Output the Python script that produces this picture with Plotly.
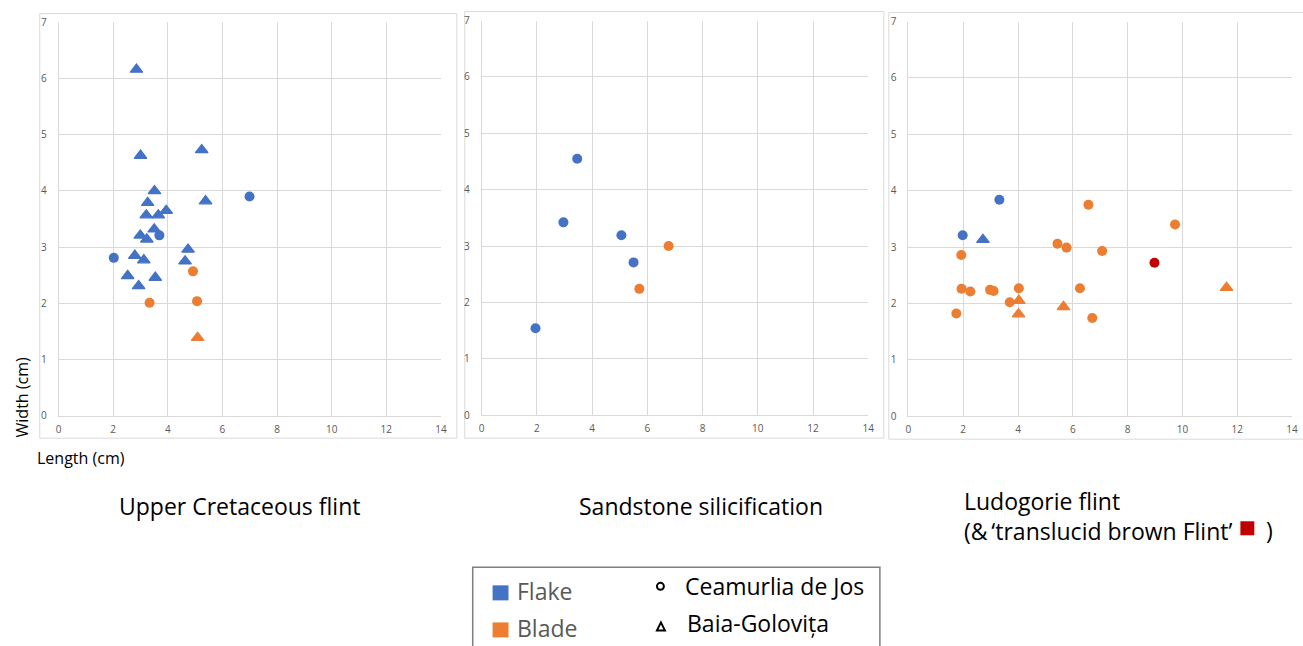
import plotly.graph_objects as go

W, H = 1303, 646

# ---------------- data ----------------
# Panel 1: Upper Cretaceous flint
p1_flake_ceam_x = [2.02, 3.69, 6.99]
p1_flake_ceam_y = [2.81, 3.21, 3.90]
p1_flake_baia_x = [2.85, 3.00, 5.24, 3.51, 3.26, 5.38, 3.94, 3.21, 3.65, 3.50,
                   2.99, 3.23, 4.74, 2.79, 3.12, 4.63, 2.53, 3.54, 2.93]
p1_flake_baia_y = [6.16, 4.63, 4.73, 4.00, 3.79, 3.82, 3.65, 3.57, 3.57, 3.32,
                   3.21, 3.14, 2.96, 2.85, 2.77, 2.75, 2.49, 2.46, 2.31]
p1_blade_ceam_x = [4.92, 3.33, 5.07]
p1_blade_ceam_y = [2.57, 2.01, 2.04]
p1_blade_baia_x = [5.09]
p1_blade_baia_y = [1.39]

# Panel 2: Sandstone silicification
p2_flake_ceam_x = [3.46, 2.96, 5.06, 5.50, 1.95]
p2_flake_ceam_y = [4.55, 3.42, 3.19, 2.71, 1.54]
p2_blade_ceam_x = [6.77, 5.71]
p2_blade_ceam_y = [3.00, 2.24]

# Panel 3: Ludogorie flint
p3_flake_ceam_x = [3.32, 1.98]
p3_flake_ceam_y = [3.84, 3.21]
p3_flake_baia_x = [2.72]
p3_flake_baia_y = [3.13]
p3_blade_ceam_x = [6.57, 9.73, 5.44, 5.77, 7.07, 1.93, 1.94, 2.26, 2.98, 3.11,
                   4.03, 6.26, 3.70, 1.75, 6.71]
p3_blade_ceam_y = [3.75, 3.40, 3.06, 2.99, 2.93, 2.86, 2.26, 2.21, 2.24, 2.22,
                   2.27, 2.27, 2.02, 1.82, 1.74]
p3_blade_baia_x = [4.03, 4.02, 5.66, 11.61]
p3_blade_baia_y = [2.05, 1.81, 1.94, 2.28]
p3_brown_ceam_x = [8.98]
p3_brown_ceam_y = [2.72]

panel_titles = ["Upper Cretaceous flint", "Sandstone silicification",
                "Ludogorie flint<br>(&\u2009\u2018translucid brown Flint\u2019"]
x_ticks = [0, 2, 4, 6, 8, 10, 12, 14]
y_ticks = [0, 1, 2, 3, 4, 5, 6, 7]

BLUE = "#4472C4"
ORANGE = "#ED7D31"
RED = "#C00000"
GRID = "#d9d9d9"
TICK = "#595959"
FONT = "Open Sans"

# vertical compensation for the slight squeeze observed in the photographed page
VS = 0.977

def px(x):
    return x / W

def py(y):
    yy = H / 2 + (y - H / 2) / VS
    return 1 - yy / H

fig = go.Figure()

def add(xs, ys, color, symbol, axis):
    xa, ya = axis
    if symbol == "circle":
        marker = dict(color=color, size=10, symbol="circle", line=dict(width=0))
    else:
        marker = dict(color=color, size=11, symbol="triangle-up",
                      line=dict(width=1.2, color=color))
    fig.add_trace(go.Scatter(x=xs, y=ys, mode="markers", marker=marker,
                             xaxis=xa, yaxis=ya, showlegend=False,
                             hoverinfo="x+y"))

add(p1_flake_baia_x, p1_flake_baia_y, BLUE, "tri", ("x", "y"))
add(p1_flake_ceam_x, p1_flake_ceam_y, BLUE, "circle", ("x", "y"))
add(p1_blade_ceam_x, p1_blade_ceam_y, ORANGE, "circle", ("x", "y"))
add(p1_blade_baia_x, p1_blade_baia_y, ORANGE, "tri", ("x", "y"))

add(p2_flake_ceam_x, p2_flake_ceam_y, BLUE, "circle", ("x2", "y2"))
add(p2_blade_ceam_x, p2_blade_ceam_y, ORANGE, "circle", ("x2", "y2"))

add(p3_flake_ceam_x, p3_flake_ceam_y, BLUE, "circle", ("x3", "y3"))
add(p3_flake_baia_x, p3_flake_baia_y, BLUE, "tri", ("x3", "y3"))
add(p3_blade_ceam_x, p3_blade_ceam_y, ORANGE, "circle", ("x3", "y3"))
add(p3_blade_baia_x, p3_blade_baia_y, ORANGE, "tri", ("x3", "y3"))
add(p3_brown_ceam_x, p3_brown_ceam_y, RED, "circle", ("x3", "y3"))

# plot-area pixel boxes (left, right, top, bottom)
areas = [(56, 441, 22.7, 415.7), (482, 871.3, 21, 415), (911.7, 1298, 22, 416)]
frames = [(37, 457, 14, 438), (465, 887, 12, 438), (892, 1310, 13, 439)]

axis_common = dict(showgrid=True, gridcolor=GRID, gridwidth=1, zeroline=False,
                   showline=True, linecolor=GRID, linewidth=1, ticks="",
                   tickfont=dict(family=FONT, size=10, color=TICK), fixedrange=True)

layout = {}
for i, (l, r, t, b) in enumerate(areas):
    sfx = "" if i == 0 else str(i + 1)
    layout["xaxis" + sfx] = dict(axis_common, domain=[px(l), px(r)], range=[0, 14],
                                tickvals=x_ticks, ticktext=[str(v) for v in x_ticks],
                                anchor="y" + sfx, mirror=False, ticklabelstandoff=4)
    layout["yaxis" + sfx] = dict(axis_common, domain=[py(b), py(t)], range=[0, 7],
                                tickvals=y_ticks, ticktext=[str(v) for v in y_ticks],
                                anchor="x" + sfx, ticklabelstandoff=9)

shapes = []
for (l, r, t, b) in frames:
    shapes.append(dict(type="rect", xref="paper", yref="paper",
                       x0=px(l), x1=px(r), y0=py(b), y1=py(t),
                       line=dict(color=GRID, width=1), fillcolor="rgba(0,0,0,0)",
                       layer="below"))

# legend box
shapes.append(dict(type="rect", xref="paper", yref="paper",
                   x0=px(473), x1=px(883), y0=py(670), y1=py(567),
                   line=dict(color="#7f7f7f", width=1.5)))
shapes.append(dict(type="rect", xref="paper", yref="paper",
                   x0=px(493), x1=px(509), y0=py(600), y1=py(585),
                   line=dict(width=0), fillcolor=BLUE))
shapes.append(dict(type="rect", xref="paper", yref="paper",
                   x0=px(493), x1=px(509), y0=py(637), y1=py(622),
                   line=dict(width=0), fillcolor=ORANGE))
shapes.append(dict(type="circle", xref="paper", yref="paper",
                   x0=px(658.5), x1=px(665.5), y0=py(589.5), y1=py(582.5),
                   line=dict(color="black", width=2)))
tri_path = "M {} {} L {} {} L {} {} Z".format(px(658.5), py(630), px(666.5), py(630),
                                             px(662.5), py(622))
shapes.append(dict(type="path", xref="paper", yref="paper", path=tri_path,
                   line=dict(color="black", width=2)))
# red square in the title
shapes.append(dict(type="rect", xref="paper", yref="paper",
                   x0=px(1246), x1=px(1260), y0=py(535), y1=py(521),
                   line=dict(width=0), fillcolor=RED))

ann = []
def text(x, y, s, size, color="black", xanchor="left", angle=0):
    ann.append(dict(x=px(x), y=py(y), xref="paper", yref="paper", text=s,
                    showarrow=False, xanchor=xanchor, yanchor="middle", align="left",
                    textangle=angle, font=dict(family=FONT, size=size, color=color)))

text(19, 397.5, "Width (cm)", 16, xanchor="center", angle=-90)
text(32, 458, "Length (cm)", 16)
text(238.5, 506, panel_titles[0], 23, xanchor="center")
text(702.5, 506, panel_titles[1], 23, xanchor="center")
text(966, 516, panel_titles[2], 23)
text(1270, 530, ")", 23)
text(516, 591, "Flake", 23, color=TICK)
text(516, 628, "Blade", 23, color=TICK)
text(685, 585.5, "Ceamurlia de Jos", 23)
text(687, 623, "Baia-Golovi\u021ba", 23)

fig.update_layout(**layout)
fig.update_layout(width=W, height=H, margin=dict(l=0, r=0, t=0, b=0),
                  paper_bgcolor="white", plot_bgcolor="white",
                  shapes=shapes, annotations=ann, showlegend=False)

fig.write_html("out.html", config={"displayModeBar": False},
               post_script="document.body.style.margin='0px';"
                           "document.documentElement.style.overflow='hidden';"
                           "document.body.style.overflow='hidden';")
